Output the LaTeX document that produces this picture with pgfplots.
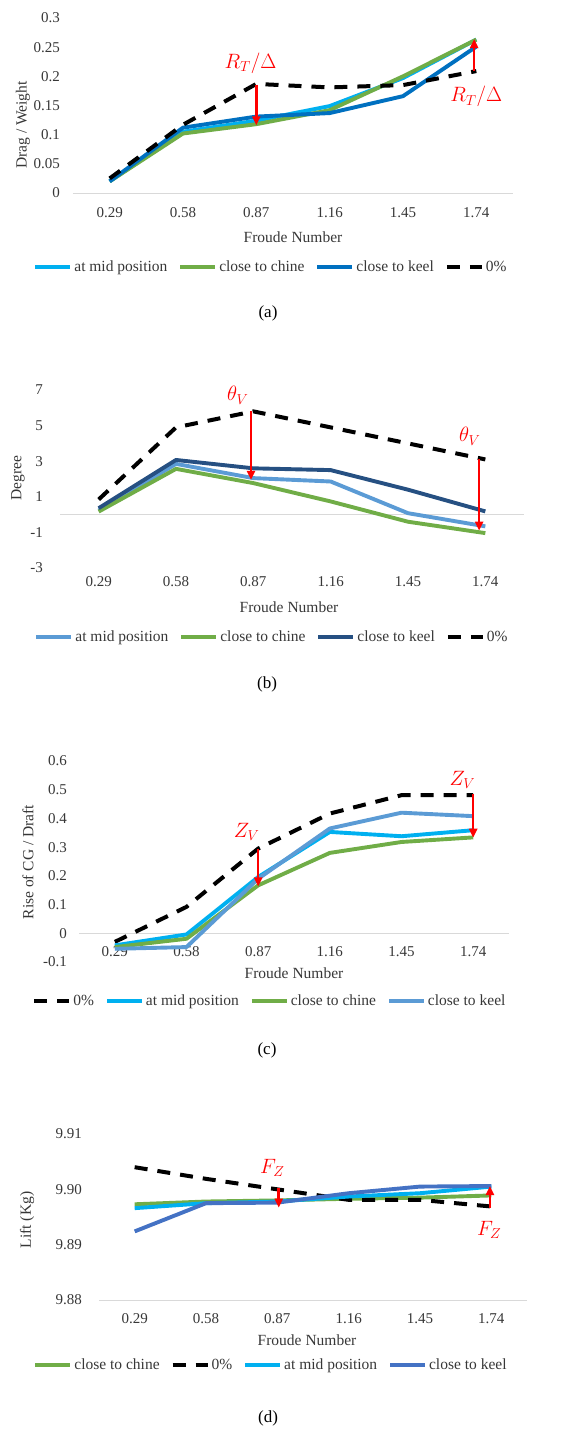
\documentclass[border=0pt]{standalone}
\usepackage{pgfplots}
\pgfplotsset{compat=1.18}
\usepackage{fontspec}
\setmainfont{Liberation Serif}
\usetikzlibrary{arrows.meta}
\definecolor{cMid}{RGB}{0,176,240}
\definecolor{cGreen}{RGB}{112,173,71}
\definecolor{cKeelA}{RGB}{0,112,192}
\definecolor{cSteel}{RGB}{91,155,213}
\definecolor{cNavy}{RGB}{38,80,130}
\definecolor{cRoyal}{RGB}{68,114,196}
\definecolor{txt}{RGB}{55,55,55}
\newcommand{\lblfont}{\fontsize{15.5}{18}\selectfont}
\pgfplotsset{
  panel/.style={
    scale only axis, clip=false,
    xmin=-0.5, xmax=5.5,
    xtick={0,...,5},
    xticklabels={0.29,0.58,0.87,1.16,1.45,1.74},
    axis line style={draw=none},
    major tick length=0pt,
    tick label style={font=\fontsize{15}{17}\selectfont, text=txt},
    yticklabel style={anchor=east, inner sep=0pt},
    xticklabel style={anchor=center, inner sep=0pt},
    legend columns=4,
    legend cell align=left,
    legend style={draw=none, fill=none, anchor=center, font=\lblfont, text=txt,
      inner sep=0pt,
      nodes={inner xsep=2pt},
      /tikz/every even column/.append style={column sep=9pt}},
    legend image code/.code={\draw[##1] (0pt,0pt) -- (35pt,0pt);},
    every axis plot/.append style={line width=3.9pt, line join=round, mark=none},
  },
  zero/.style={extra y ticks={#1}, extra y tick labels={},
    extra y tick style={grid=major, major grid style={draw=black!15, line width=1pt}}},
  zeroline/.style={dash pattern=on 13pt off 10pt, black, line width=4pt},
}
\tikzset{redarr/.style={red, line width=2.6pt, -{Triangle[length=9pt,width=8pt]}},
         redlbl/.style={red, font=\fontsize{21}{24}\selectfont}}
\begin{document}
\begin{tikzpicture}[font=\lblfont]
\useasboundingbox (0,0) rectangle (566pt,-1429pt);
% ---------------- (a)
\begin{axis}[panel, at={(73pt,-193pt)}, anchor=south west, width=440pt, height=175pt,
  ymin=0, ymax=0.3, ytick={0,0.05,0.1,0.15,0.2,0.25,0.3},
  yticklabels={0,0.05,0.1,0.15,0.2,0.25,0.3},
  yticklabel style={xshift=-13pt}, xticklabel style={yshift=-20pt},
  zero=0,
  legend style={at={(0.45,-0.423)}}]
\addplot[cMid] coordinates {(0,0.02)(1,0.105)(2,0.124)(3,0.149)(4,0.197)(5,0.263)};
\addlegendentry{at mid position}
\addplot[cGreen] coordinates {(0,0.02)(1,0.102)(2,0.118)(3,0.142)(4,0.2)(5,0.263)};
\addlegendentry{close to chine}
\addplot[cKeelA] coordinates {(0,0.02)(1,0.112)(2,0.131)(3,0.137)(4,0.166)(5,0.251)};
\addlegendentry{close to keel}
\addplot[zeroline] coordinates {(0,0.025)(1,0.117)(2,0.187)(3,0.181)(4,0.185)(5,0.209)};
\addlegendentry{0\%}
\draw[redarr] (axis cs:2,0.186) -- (axis cs:2,0.116);
\draw[redarr] (axis cs:4.97,0.209) -- (axis cs:4.97,0.264);
\node[redlbl] at (axis cs:1.92,0.222) {$R_T/\Delta$};
\node[redlbl] at (axis cs:5.0,0.165) {$R_T/\Delta$};
\end{axis}
\node[rotate=90, text=txt] at (23pt,-125pt) {Drag / Weight};
\node[text=txt] at (293pt,-237pt) {Froude Number};
\node[font=\fontsize{17}{20}\selectfont] at (268pt,-313pt) {(a)};
% ---------------- (b)
\begin{axis}[panel, at={(60pt,-568pt)}, anchor=south west, width=464pt, height=178pt,
  ymin=-3, ymax=7, ytick={-3,-1,1,3,5,7},
  yticklabels={-3,-1,1,3,5,7},
  yticklabel style={xshift=-17pt}, xticklabel style={yshift=-14pt},
  zero=0,
  legend style={at={(0.457,-0.388)}}]
\addplot[cSteel] coordinates {(0,0.23)(1,2.85)(2,2.05)(3,1.86)(4,0.08)(5,-0.66)};
\addlegendentry{at mid position}
\addplot[cGreen] coordinates {(0,0.17)(1,2.57)(2,1.77)(3,0.74)(4,-0.4)(5,-1.04)};
\addlegendentry{close to chine}
\addplot[cNavy] coordinates {(0,0.36)(1,3.07)(2,2.6)(3,2.5)(4,1.4)(5,0.18)};
\addlegendentry{close to keel}
\addplot[zeroline] coordinates {(0,0.85)(1,4.9)(2,5.8)(3,4.9)(4,4.0)(5,3.1)};
\addlegendentry{0\%}
\draw[redarr] (axis cs:1.97,5.8) -- (axis cs:1.97,1.95);
\draw[redarr] (axis cs:4.92,3.1) -- (axis cs:4.92,-0.9);
\node[redlbl] at (axis cs:1.8,6.7) {$\theta_V$};
\node[redlbl] at (axis cs:4.8,4.4) {$\theta_V$};
\end{axis}
\node[rotate=90, text=txt] at (18pt,-478pt) {Degree};
\node[text=txt] at (289pt,-607pt) {Froude Number};
\node[font=\fontsize{17}{20}\selectfont] at (267pt,-684pt) {(b)};
% ---------------- (c)
\begin{axis}[panel, at={(79pt,-962pt)}, anchor=south west, width=430pt, height=201pt,
  ymin=-0.1, ymax=0.6, ytick={-0.1,0,0.1,0.2,0.3,0.4,0.5,0.6},
  yticklabels={-0.1,0,0.1,0.2,0.3,0.4,0.5,0.6},
  yticklabel style={xshift=-12pt}, xticklabel style={yshift=10pt},
  zero=0,
  legend style={at={(0.444,-0.194)}}]
\addplot[zeroline] coordinates {(0,-0.03)(1,0.092)(2,0.295)(3,0.417)(4,0.481)(5,0.481)};
\addlegendentry{0\%}
\addplot[cMid] coordinates {(0,-0.042)(1,-0.004)(2,0.196)(3,0.353)(4,0.338)(5,0.359)};
\addlegendentry{at mid position}
\addplot[cGreen] coordinates {(0,-0.048)(1,-0.019)(2,0.167)(3,0.28)(4,0.318)(5,0.334)};
\addlegendentry{close to chine}
\addplot[cSteel] coordinates {(0,-0.054)(1,-0.048)(2,0.19)(3,0.365)(4,0.42)(5,0.408)};
\addlegendentry{close to keel}
\draw[redarr] (axis cs:2,0.295) -- (axis cs:2,0.163);
\draw[redarr] (axis cs:5,0.485) -- (axis cs:5,0.333);
\node[redlbl] at (axis cs:1.84,0.354) {$Z_V$};
\node[redlbl] at (axis cs:4.85,0.534) {$Z_V$};
\end{axis}
\node[rotate=90, text=txt] at (28pt,-862pt) {Rise of CG / Draft};
\node[text=txt] at (294pt,-973pt) {Froude Number};
\node[font=\fontsize{17}{20}\selectfont] at (267pt,-1050pt) {(c)};
% ---------------- (d)
\begin{axis}[panel, at={(99pt,-1300pt)}, anchor=south west, width=428pt, height=166pt,
  ymin=9.88, ymax=9.91, ytick={9.88,9.89,9.90,9.91},
  yticklabels={9.88,9.89,9.90,9.91},
  yticklabel style={xshift=-17pt}, xticklabel style={yshift=-19pt},
  zero=9.88,
  legend style={at={(0.402,-0.392)}}]
\addplot[cGreen] coordinates {(0,9.8973)(1,9.8978)(2,9.8980)(3,9.8983)(4,9.8985)(5,9.8989)};
\addlegendentry{close to chine}
\addplot[zeroline] coordinates {(0,9.9040)(1,9.9019)(2,9.9000)(3,9.8981)(4,9.8981)(5,9.8969)};
\addlegendentry{0\%}
\addplot[cMid] coordinates {(0,9.8966)(1,9.8975)(2,9.8978)(3,9.8987)(4,9.8993)(5,9.9005)};
\addlegendentry{at mid position}
\addplot[cRoyal] coordinates {(0,9.8924)(1,9.8975)(2,9.8976)(3,9.8993)(4,9.9005)(5,9.9006)};
\addlegendentry{close to keel}
\draw[redarr] (axis cs:2.02,9.9003) -- (axis cs:2.02,9.8967);
\draw[redarr] (axis cs:4.98,9.8967) -- (axis cs:4.98,9.9006);
\node[redlbl] at (axis cs:1.93,9.9038) {$F_Z$};
\node[redlbl] at (axis cs:4.97,9.8927) {$F_Z$};
\end{axis}
\node[rotate=90, text=txt] at (27pt,-1220pt) {Lift (Kg)};
\node[text=txt] at (307pt,-1340pt) {Froude Number};
\node[font=\fontsize{17}{20}\selectfont] at (268pt,-1418pt) {(d)};
\end{tikzpicture}
\end{document}
